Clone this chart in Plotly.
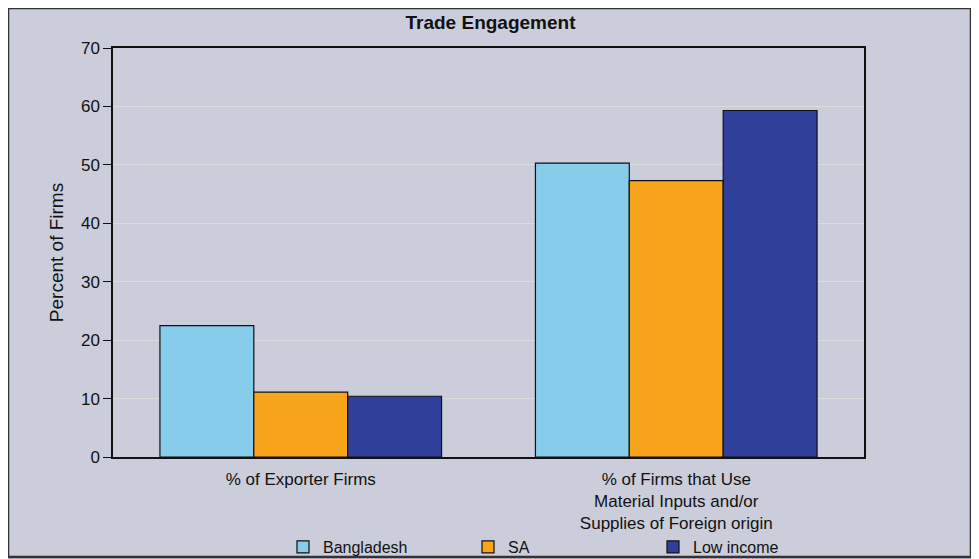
import plotly.graph_objects as go

categories = ["% of Exporter Firms",
              "% of Firms that Use<br>Material Inputs and/or<br>Supplies of Foreign origin"]
series_names = ["Bangladesh", "SA", "Low income"]
bangladesh = [22.5, 50.3]
sa = [11.1, 47.3]
low_income = [10.4, 59.3]
y_ticks = [0, 10, 20, 30, 40, 50, 60, 70]

colors = ["#87CCEA", "#F9A51C", "#30409A"]
OFF = 8  # page body margin
W, H = 965, 551
L, R, T, B = 113 - OFF, 864 - OFF, 48 - OFF, 457 - OFF

fig = go.Figure()
for name, vals, col in zip(series_names, [bangladesh, sa, low_income], colors):
    fig.add_trace(go.Bar(x=categories, y=vals, name=name,
                         marker=dict(color=col, line=dict(color="#111111", width=1.2))))

bg = "#CBCDDB"
fnt = "Liberation Sans, Arial, sans-serif"
fig.update_layout(
    width=W, height=H,
    margin=dict(l=L, r=W - R, t=T, b=H - B, autoexpand=False),
    paper_bgcolor=bg, plot_bgcolor=bg,
    barmode="group", bargap=0.25, bargroupgap=0,
    font=dict(family=fnt, color="#111111", size=17),
    title=dict(text="<b>Trade Engagement</b>", x=0.5, xanchor="center", y=1 - (22 - OFF) / H,
               yanchor="middle", font=dict(size=19, color="#111111")),
    showlegend=True,
    legend=dict(orientation="h", x=(283 - OFF - L) / (R - L), xanchor="left",
                y=(B - (547 - OFF)) / (B - T),
                yanchor="middle", font=dict(size=16), bgcolor="rgba(0,0,0,0)",
                entrywidth=140, entrywidthmode="pixels", tracegroupgap=0),
    yaxis=dict(range=[0, 70], tickvals=y_ticks, showgrid=True, gridcolor="#DCDCDC",
               gridwidth=1, ticks="outside", ticklen=8, tickcolor="#111111",
               showline=True, linecolor="#111111", linewidth=1.5, mirror=True,
               zeroline=False, tickfont=dict(size=17),
               title=dict(text="Percent of Firms", font=dict(size=19), standoff=12)),
    xaxis=dict(showline=True, linecolor="#111111", linewidth=1.5, mirror=True,
               ticks="", tickfont=dict(size=17), ticklabelstandoff=6),
)

fig.add_shape(type="rect", xref="paper", yref="paper",
              x0=(0 - L) / (R - L), x1=(W - 2 - L) / (R - L),
              y0=(B - (H - 2)) / (B - T), y1=(B - 0) / (B - T),
              line=dict(color="#333333", width=2.5), fillcolor="rgba(0,0,0,0)", layer="below")

fig.write_html("out.html")
